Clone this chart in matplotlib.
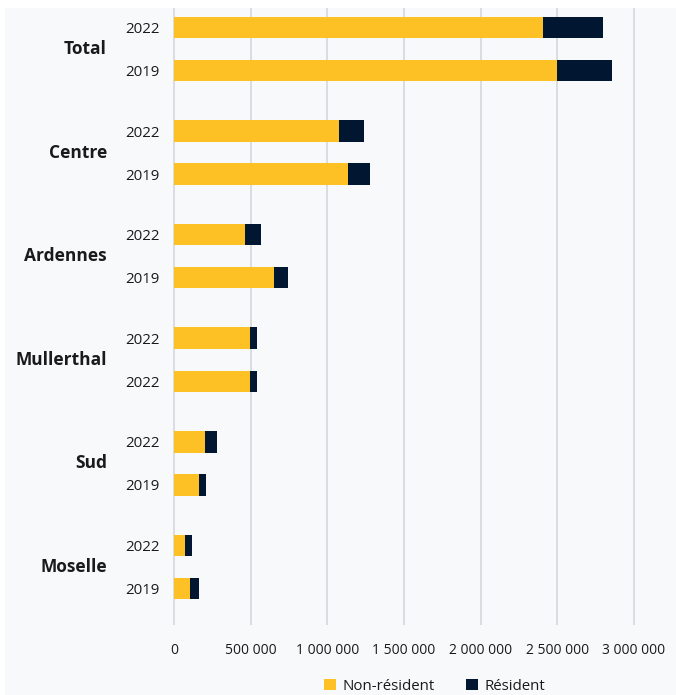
import matplotlib
matplotlib.use("Agg")
import matplotlib.pyplot as plt
from matplotlib.patches import Rectangle, Patch
from matplotlib.transforms import blended_transform_factory
import matplotlib.ticker as mticker

plt.rcParams['font.family'] = ['Open Sans', 'DejaVu Sans']

categories = ['Total', 'Centre', 'Ardennes', 'Mullerthal', 'Sud', 'Moselle']
years = [['2022', '2019'], ['2022', '2019'], ['2022', '2019'],
         ['2022', '2022'], ['2022', '2019'], ['2022', '2019']]
non_resident = [[2406000, 2498000], [1076000, 1135000], [463000, 652000],
                [496000, 496000], [202000, 163000], [72000, 104000]]
resident = [[392000, 359000], [163000, 143000], [104000, 91000],
            [45000, 45000], [78000, 46000], [45000, 59000]]
xticks = [0, 500000, 1000000, 1500000, 2000000, 2500000, 3000000]
xtick_labels = ['0', '500 000', '1 000 000', '1 500 000', '2 000 000', '2 500 000', '3 000 000']

YELLOW = '#FDC125'
NAVY = '#001631'
BG = '#F8F9FB'
TXT = '#1a1a1a'

W, H = 676, 695
fig = plt.figure(figsize=(W / 100, H / 100), dpi=100, facecolor='white')
fig.patches.append(Rectangle((5 / W, 0), 1 - 5 / W, 1 - 8 / H, transform=fig.transFigure,
                             facecolor=BG, edgecolor='none', zorder=-10))

ppu = 460 / 3e6
x0, x1 = -20000, 3100000
left = (174 + x0 * ppu) / W
right = (174 + x1 * ppu) / W
ax = fig.add_axes([left, 70 / H, right - left, (625 - 8) / H])
ax.set_facecolor(BG)

gap = 2.407
ypos, ylabels = [], []
for g, cat in enumerate(categories):
    for j in range(2):
        y = g * gap + j
        ypos.append(y)
        ylabels.append(years[g][j])
        ax.barh(y, non_resident[g][j], height=0.5, color=YELLOW, zorder=3)
        ax.barh(y, resident[g][j], left=non_resident[g][j], height=0.5, color=NAVY, zorder=3)

ax.set_xlim(x0, x1)
ax.set_ylim(5 * gap + 1 + 0.849, -0.453)
ax.set_yticks(ypos)
ax.set_yticklabels(ylabels, fontsize=10.8, color=TXT)
ax.set_xticks(xticks)
ax.set_xticklabels(xtick_labels, fontsize=10, color=TXT)
ax.tick_params(axis='y', length=0, pad=8)
ax.tick_params(axis='x', length=0, pad=13)
ax.grid(axis='x', color='#D2D4D7', linewidth=1.1, zorder=0)
ax.set_axisbelow(True)
for s in ax.spines.values():
    s.set_visible(False)

trans = blended_transform_factory(fig.transFigure, ax.transData)
for g, cat in enumerate(categories):
    ax.text(107 / W, g * gap + 0.5, cat, transform=trans, ha='right', va='center',
            fontsize=12.5, fontweight='bold', color=TXT)

handles = [Patch(facecolor=YELLOW, edgecolor='none', label='Non-résident'),
           Patch(facecolor=NAVY, edgecolor='none', label='Résident')]
fig.legend(handles=handles, loc='center', bbox_to_anchor=(434.5 / W, 1 - 686 / H), ncol=2,
           frameon=False, fontsize=10.8, handlelength=0.8, handleheight=0.8,
           handletextpad=0.45, columnspacing=2.1, labelcolor=TXT)

fig.savefig('out.png', dpi=100, facecolor='white')
